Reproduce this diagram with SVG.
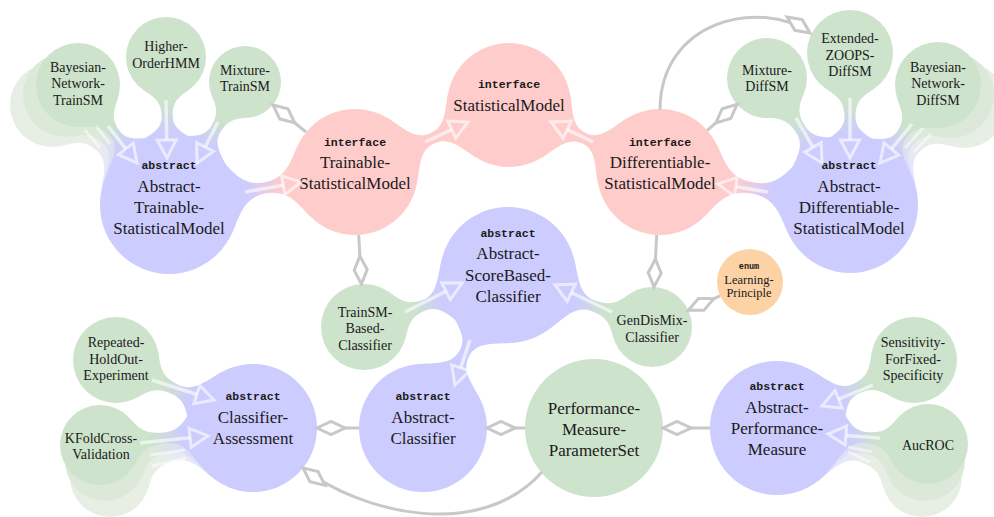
<svg xmlns="http://www.w3.org/2000/svg" width="994" height="517" viewBox="0 0 994 517">
<defs>
<style>
.t{font-family:"Liberation Serif","Times New Roman",serif;fill:#1a1a1a;text-anchor:middle}
.L{font-size:17px}
.S{font-size:14px}
.kw{font-family:"Liberation Mono","Courier New",monospace;font-weight:bold;font-size:11.5px;fill:#1a1a1a;text-anchor:middle}
.g{fill:#cde3cb}.b{fill:#ccccff}.p{fill:#ffcccc}.o{fill:#fdd3a6}
.g1{fill:#dce9d9}.g2{fill:#e7efe4}
.agg{fill:none;stroke:#c8c8c8;stroke-width:3;marker-start:url(#dia)}
.inh{fill:none;stroke:#fff;stroke-opacity:.6;stroke-width:3.5;marker-end:url(#tri)}
.gl{fill:none;stroke:#fff;stroke-opacity:.5;stroke-width:3}
</style>
<linearGradient id="gGB" x1="0" y1="0" x2="1" y2="0"><stop offset="0.25" stop-color="#cde3cb"/><stop offset="0.75" stop-color="#ccccff"/></linearGradient>
<linearGradient id="gBP" x1="0" y1="0" x2="1" y2="0"><stop offset="0.25" stop-color="#ccccff"/><stop offset="0.75" stop-color="#ffcccc"/></linearGradient>
<linearGradient id="gG1" x1="0" y1="0" x2="1" y2="0"><stop offset="0.25" stop-color="#dce9d9"/><stop offset="0.8" stop-color="#dcdcfb"/></linearGradient>
<linearGradient id="gG2" x1="0" y1="0" x2="1" y2="0"><stop offset="0.25" stop-color="#e7efe4"/><stop offset="0.8" stop-color="#e6e6fb"/></linearGradient>
<marker id="tri" markerUnits="userSpaceOnUse" markerWidth="26" markerHeight="26" viewBox="-4 -13 26 26" refX="0" refY="0" orient="auto" overflow="visible">
<path d="M0,-9.5 L18,0 L0,9.5 Z" fill="none" stroke="#fff" stroke-opacity="0.6" stroke-width="3"/>
</marker>
<marker id="dia" markerUnits="userSpaceOnUse" markerWidth="34" markerHeight="20" viewBox="-3 -10 34 20" refX="0" refY="0" orient="auto" overflow="visible">
<path d="M0,0 L14,-6.5 L28,0 L14,6.5 Z" fill="#fff" stroke="#c8c8c8" stroke-width="3"/>
</marker>
</defs>
<rect width="994" height="517" fill="#fff"/>

<g id="shadows">
<path fill="url(#gG2)" transform="translate(52,105) rotate(40.5)" d="M34.4,-24.1 C41.6,-13.8 46.3,-5.5 63.45,-5.5 C80.6,-5.5 85.5,-22.6 97.4,-39.6 L97.4,39.6 C85.5,22.6 80.6,5.5 63.45,5.5 C46.3,5.5 41.6,13.8 34.4,24.1 Z"/>
<circle class="g2" cx="52" cy="105" r="42"/>
<path fill="url(#gG1)" transform="translate(65,95) rotate(46.6)" d="M34.4,-24.1 C41.6,-13.8 46,-5.5 62.2,-5.5 C78.4,-5.5 83,-22.6 94.9,-39.6 L94.9,39.6 C83,22.6 78.4,5.5 62.2,5.5 C46,5.5 41.6,13.8 34.4,24.1 Z"/>
<circle class="g1" cx="65" cy="95" r="42"/>
<path fill="url(#gG2)" transform="translate(964,105) rotate(138.7)" d="M35.2,-24.7 C42.6,-14.1 47.1,-5.5 63.3,-5.5 C79.5,-5.5 84.2,-22.3 95.9,-39 L95.9,39 C84.2,22.3 79.5,5.5 63.3,5.5 C47.1,5.5 42.6,14.1 35.2,24.7 Z"/>
<circle class="g2" cx="964" cy="105" r="43"/>
<path fill="url(#gG1)" transform="translate(951,95) rotate(132.6)" d="M35.2,-24.7 C42.6,-14.1 46.8,-5.5 62.15,-5.5 C77.5,-5.5 81.9,-22.3 93.6,-39 L93.6,39 C81.9,22.3 77.5,5.5 62.15,5.5 C46.8,5.5 42.6,14.1 35.2,24.7 Z"/>
<circle class="g1" cx="951" cy="95" r="43"/>
<path fill="url(#gG2)" transform="translate(110,477) rotate(-18.9)" d="M32.8,-23 C39.6,-13.1 44.7,-5.5 63.6,-5.5 C82.5,-5.5 87.8,-21 98.8,-36.7 L98.8,36.7 C87.8,21 82.5,5.5 63.6,5.5 C44.7,5.5 39.6,13.1 32.8,23 Z"/>
<circle class="g2" cx="110" cy="477" r="40"/>
<path fill="url(#gG1)" transform="translate(105,461) rotate(-12.6)" d="M32.8,-23 C39.6,-13.1 44.8,-5.5 63.8,-5.5 C82.8,-5.5 88.2,-21 99.2,-36.7 L99.2,36.7 C88.2,21 82.8,5.5 63.8,5.5 C44.8,5.5 39.6,13.1 32.8,23 Z"/>
<circle class="g1" cx="105" cy="461" r="40"/>
<path fill="url(#gG2)" transform="translate(922,477) rotate(-161.3)" d="M32.8,-23 C39.6,-13.1 44.6,-5.5 63.05,-5.5 C81.5,-5.5 86.7,-22 98.2,-38.5 L98.2,38.5 C86.7,22 81.5,5.5 63.05,5.5 C44.6,5.5 39.6,13.1 32.8,23 Z"/>
<circle class="g2" cx="922" cy="477" r="40"/>
<path fill="url(#gG1)" transform="translate(925,461) rotate(-167.4)" d="M32.8,-23 C39.6,-13.1 44.5,-5.5 62.3,-5.5 C80.1,-5.5 85.2,-22 96.7,-38.5 L96.7,38.5 C85.2,22 80.1,5.5 62.3,5.5 C44.5,5.5 39.6,13.1 32.8,23 Z"/>
<circle class="g1" cx="925" cy="461" r="40"/>
</g>

<g id="bars">
<path fill="url(#gGB)" transform="translate(78,85) rotate(52.8)" d="M34.4,-24.1 C41.6,-13.8 46,-5.5 61.8,-5.5 C77.6,-5.5 82.2,-22.6 94.1,-39.6 L94.1,39.6 C82.2,22.6 77.6,5.5 61.8,5.5 C46,5.5 41.6,13.8 34.4,24.1 Z"/>
<path fill="url(#gGB)" transform="translate(166,57) rotate(88.8)" d="M32.8,-23 C39.6,-13.1 43.9,-5.5 59.5,-5.5 C75.1,-5.5 79.6,-22.6 91.5,-39.6 L91.5,39.6 C79.6,22.6 75.1,5.5 59.5,5.5 C43.9,5.5 39.6,13.1 32.8,23 Z"/>
<path fill="url(#gGB)" transform="translate(245,82) rotate(121.7)" d="M29.5,-20.7 C35.7,-11.8 40,-5.5 55.8,-5.5 C71.6,-5.5 76.2,-22.6 88.1,-39.6 L88.1,39.6 C76.2,22.6 71.6,5.5 55.8,5.5 C40,5.5 35.7,11.8 29.5,20.7 Z"/>
<path fill="url(#gBP)" transform="translate(169,205) rotate(-10.1)" d="M56.5,-39.6 C68.4,-22.6 74.7,-5.5 97.45,-5.5 C120.2,-5.5 126.5,-20.7 137.3,-36.2 L137.3,36.2 C126.5,20.7 120.2,5.5 97.45,5.5 C74.7,5.5 68.4,22.6 56.5,39.6 Z"/>
<path fill="#ffcccc" transform="translate(355,172) rotate(-23.5)" d="M51.6,-36.2 C62.4,-20.7 67.3,-5.5 84.45,-5.5 C101.6,-5.5 106.5,-20.3 117.1,-35.6 L117.1,35.6 C106.5,20.3 101.6,5.5 84.45,5.5 C67.3,5.5 62.4,20.7 51.6,36.2 Z"/>
<path fill="#ffcccc" transform="translate(660,172) rotate(-156.1)" d="M51.6,-36.2 C62.4,-20.7 67,-5.5 83.1,-5.5 C99.2,-5.5 103.8,-20.3 114.4,-35.6 L114.4,35.6 C103.8,20.3 99.2,5.5 83.1,5.5 C67,5.5 62.4,20.7 51.6,36.2 Z"/>
<path fill="url(#gBP)" transform="translate(850,205) rotate(-170.1)" d="M55.7,-39 C67.4,-22.3 74.2,-5.5 98.9,-5.5 C123.6,-5.5 130.4,-20.7 141.2,-36.2 L141.2,36.2 C130.4,20.7 123.6,5.5 98.9,5.5 C74.2,5.5 67.4,22.3 55.7,39 Z"/>
<path fill="url(#gGB)" transform="translate(767,78) rotate(56.8)" d="M32.8,-23 C39.6,-13.1 44.4,-5.5 61.85,-5.5 C79.3,-5.5 84.3,-22.3 96,-39 L96,39 C84.3,22.3 79.3,5.5 61.85,5.5 C44.4,5.5 39.6,13.1 32.8,23 Z"/>
<path fill="url(#gGB)" transform="translate(850,53) rotate(90)" d="M35.2,-24.7 C42.6,-14.1 47.1,-5.5 63.5,-5.5 C79.9,-5.5 84.6,-22.3 96.3,-39 L96.3,39 C84.6,22.3 79.9,5.5 63.5,5.5 C47.1,5.5 42.6,14.1 35.2,24.7 Z"/>
<path fill="url(#gGB)" transform="translate(938,85) rotate(126.3)" d="M35.2,-24.7 C42.6,-14.1 46.8,-5.5 61.9,-5.5 C77,-5.5 81.4,-22.3 93.1,-39 L93.1,39 C81.4,22.3 77,5.5 61.9,5.5 C46.8,5.5 42.6,14.1 35.2,24.7 Z"/>
<path fill="url(#gGB)" transform="translate(364,327) rotate(-19.9)" d="M35.2,-24.7 C42.6,-14.1 47.2,-5.5 64.05,-5.5 C80.9,-5.5 85.7,-22.3 97.4,-39 L97.4,39 C85.7,22.3 80.9,5.5 64.05,5.5 C47.2,5.5 42.6,14.1 35.2,24.7 Z"/>
<path fill="url(#gGB)" transform="translate(652,327) rotate(-160.1)" d="M32.8,-23 C39.6,-13.1 44.5,-5.5 62.55,-5.5 C80.6,-5.5 85.7,-22.3 97.4,-39 L97.4,39 C85.7,22.3 80.6,5.5 62.55,5.5 C44.5,5.5 39.6,13.1 32.8,23 Z"/>
<path fill="#ccccff" transform="translate(508,275) rotate(119.1)" d="M55.7,-39 C67.4,-22.3 72.3,-5.5 89.5,-5.5 C106.7,-5.5 111.6,-21 122.6,-36.7 L122.6,36.7 C111.6,21 106.7,5.5 89.5,5.5 C72.3,5.5 67.4,22.3 55.7,39 Z"/>
<path fill="url(#gGB)" transform="translate(116,360) rotate(26.4)" d="M35.2,-24.7 C42.6,-14.1 47.6,-5.5 65.95,-5.5 C84.3,-5.5 89.5,-21 100.5,-36.7 L100.5,36.7 C89.5,21 84.3,5.5 65.95,5.5 C47.6,5.5 42.6,14.1 35.2,24.7 Z"/>
<path fill="url(#gGB)" transform="translate(100,445) rotate(-6.3)" d="M32.8,-23 C39.6,-13.1 45,-5.5 64.95,-5.5 C84.9,-5.5 90.5,-21 101.5,-36.7 L101.5,36.7 C90.5,21 84.9,5.5 64.95,5.5 C45,5.5 39.6,13.1 32.8,23 Z"/>
<path fill="url(#gGB)" transform="translate(914,360) rotate(153.6)" d="M35.2,-24.7 C42.6,-14.1 47.3,-5.5 64.45,-5.5 C81.6,-5.5 86.5,-22 98,-38.5 L98,38.5 C86.5,22 81.6,5.5 64.45,5.5 C47.3,5.5 42.6,14.1 35.2,24.7 Z"/>
<path fill="url(#gGB)" transform="translate(928,444) rotate(-174)" d="M32.8,-23 C39.6,-13.1 44.5,-5.5 62.4,-5.5 C80.3,-5.5 85.4,-22 96.9,-38.5 L96.9,38.5 C85.4,22 80.3,5.5 62.4,5.5 C44.5,5.5 39.6,13.1 32.8,23 Z"/>
</g>

<g id="n-StatisticalModel"><circle class="p" cx="509" cy="105" r="62"/>
<text class="kw" x="509" y="88">interface</text><text class="t L" x="509" y="111">StatisticalModel</text></g>
<g id="n-TrainableStatisticalModel"><circle class="p" cx="355" cy="172" r="63"/>
<text class="kw" x="355" y="145.5">interface</text><text class="t L" x="355" y="168">Trainable-</text><text class="t L" x="355" y="189">StatisticalModel</text></g>
<g id="n-DifferentiableStatisticalModel"><circle class="p" cx="660" cy="172" r="63"/>
<text class="kw" x="660" y="145.5">interface</text><text class="t L" x="660" y="168">Differentiable-</text><text class="t L" x="660" y="189">StatisticalModel</text></g>
<g id="n-AbstractTrainableStatisticalModel"><circle class="b" cx="169" cy="205" r="69"/>
<text class="kw" x="169" y="169">abstract</text><text class="t L" x="169" y="192">Abstract-</text><text class="t L" x="169" y="213">Trainable-</text><text class="t L" x="169" y="234">StatisticalModel</text></g>
<g id="n-AbstractDifferentiableStatisticalModel"><circle class="b" cx="850" cy="205" r="68"/>
<text class="kw" x="849" y="169">abstract</text><text class="t L" x="849" y="192">Abstract-</text><text class="t L" x="849" y="213">Differentiable-</text><text class="t L" x="849" y="234">StatisticalModel</text></g>
<g id="n-AbstractScoreBasedClassifier"><circle class="b" cx="508" cy="275" r="68"/>
<text class="kw" x="508" y="237">abstract</text><text class="t L" x="508" y="259">Abstract-</text><text class="t L" x="508" y="280.5">ScoreBased-</text><text class="t L" x="508" y="302">Classifier</text></g>
<g id="n-AbstractClassifier"><circle class="b" cx="423" cy="428" r="64"/>
<text class="kw" x="423" y="400">abstract</text><text class="t L" x="423" y="423">Abstract-</text><text class="t L" x="423" y="444">Classifier</text></g>
<g id="n-ClassifierAssessment"><circle class="b" cx="253" cy="428" r="64"/>
<text class="kw" x="253" y="400">abstract</text><text class="t L" x="253" y="423">Classifier-</text><text class="t L" x="253" y="444">Assessment</text></g>
<g id="n-PerformanceMeasureParameterSet"><circle class="g" cx="594" cy="428" r="69"/>
<text class="t L" x="594" y="413.5">Performance-</text><text class="t L" x="594" y="434.5">Measure-</text><text class="t L" x="594" y="455.5">ParameterSet</text></g>
<g id="n-AbstractPerformanceMeasure"><circle class="b" cx="777" cy="428" r="67"/>
<text class="kw" x="777" y="390">abstract</text><text class="t L" x="777" y="413">Abstract-</text><text class="t L" x="777" y="434">Performance-</text><text class="t L" x="777" y="455">Measure</text></g>

<g id="n-BayesianNetworkTrainSM"><circle class="g" cx="78" cy="85" r="42"/>
<text class="t S" x="78" y="71.5">Bayesian-</text><text class="t S" x="78" y="88">Network-</text><text class="t S" x="78" y="104.5">TrainSM</text></g>
<g id="n-HigherOrderHMM"><circle class="g" cx="166" cy="57" r="40"/>
<text class="t S" x="166" y="51">Higher-</text><text class="t S" x="166" y="67.5">OrderHMM</text></g>
<g id="n-MixtureTrainSM"><circle class="g" cx="245" cy="82" r="36"/>
<text class="t S" x="245" y="75">Mixture-</text><text class="t S" x="245" y="91">TrainSM</text></g>
<g id="n-MixtureDiffSM"><circle class="g" cx="767" cy="78" r="40"/>
<text class="t S" x="767" y="75">Mixture-</text><text class="t S" x="767" y="91">DiffSM</text></g>
<g id="n-ExtendedZOOPSDiffSM"><circle class="g" cx="850" cy="53" r="43"/>
<text class="t S" x="850" y="43">Extended-</text><text class="t S" x="850" y="60">ZOOPS-</text><text class="t S" x="850" y="76">DiffSM</text></g>
<g id="n-BayesianNetworkDiffSM"><circle class="g" cx="938" cy="85" r="43"/>
<text class="t S" x="938" y="71.5">Bayesian-</text><text class="t S" x="938" y="88">Network-</text><text class="t S" x="938" y="104.5">DiffSM</text></g>
<g id="n-TrainSMBasedClassifier"><circle class="g" cx="364" cy="327" r="43"/>
<text class="t S" x="365" y="317">TrainSM-</text><text class="t S" x="365" y="333">Based-</text><text class="t S" x="365" y="349.5">Classifier</text></g>
<g id="n-GenDisMixClassifier"><circle class="g" cx="652" cy="327" r="40"/>
<text class="t S" x="652" y="325">GenDisMix-</text><text class="t S" x="652" y="341.5">Classifier</text></g>
<g id="n-LearningPrinciple"><circle class="o" cx="750" cy="282" r="33"/>
<text class="kw" x="749" y="269" style="font-size:8.5px">enum</text><text class="t" x="749" y="283.5" style="font-size:12.5px">Learning-</text><text class="t" x="749" y="296.5" style="font-size:12.5px">Principle</text></g>
<g id="n-RepeatedHoldOutExperiment"><circle class="g" cx="116" cy="360" r="43"/>
<text class="t S" x="116" y="347">Repeated-</text><text class="t S" x="116" y="363.5">HoldOut-</text><text class="t S" x="116" y="380">Experiment</text></g>
<g id="n-KFoldCrossValidation"><circle class="g" cx="100" cy="445" r="40"/>
<text class="t S" x="101" y="443">KFoldCross-</text><text class="t S" x="101" y="458.5">Validation</text></g>
<g id="n-SensitivityForFixedSpecificity"><circle class="g" cx="914" cy="360" r="43"/>
<text class="t S" x="913" y="346.5">Sensitivity-</text><text class="t S" x="913" y="363.5">ForFixed-</text><text class="t S" x="913" y="380">Specificity</text></g>
<g id="n-AucROC"><circle class="g" cx="928" cy="444" r="40"/>
<text class="t S" x="928" y="450">AucROC</text></g>

<g id="connectors">
<path class="gl" d="M85,130 L100,148"/>
<path class="gl" d="M96,126 L110,144"/>
<path class="gl" d="M923,128 L905,148"/>
<path class="gl" d="M931,134 L914,152"/>
<path class="gl" d="M150,455 L185,450"/>
<path class="gl" d="M152,466 L186,458"/>
<path class="gl" d="M872,452 L848,447"/>
<path class="gl" d="M870,462 L848,452"/>
<path class="inh" d="M166,100 L166.7,140"/>
<path class="inh" d="M218,122 L205.2,147"/>
<path class="inh" d="M108,126 L125.9,148.8"/>
<path class="inh" d="M245,192 L283.3,185.2"/>
<path class="inh" d="M425,142 L451.7,129.6"/>
<path class="inh" d="M593,142 L567.3,129.7"/>
<path class="inh" d="M768,192 L735.8,186.8"/>
<path class="inh" d="M796,118 L813,147.4"/>
<path class="inh" d="M850,98 L850,140"/>
<path class="inh" d="M912,124 L891.4,149.1"/>
<path class="inh" d="M405,312 L446,291.2"/>
<path class="inh" d="M612,312 L571.3,292.7"/>
<path class="inh" d="M470,340 L460.7,367.9"/>
<path class="inh" d="M152,380 L196.9,394.5"/>
<path class="inh" d="M140,443 L190.1,437.8"/>
<path class="inh" d="M873,385 L838.6,399.2"/>
<path class="inh" d="M880,438 L845.9,435.4"/>
<path class="agg" d="M273,105 L306,132"/>
<path class="agg" d="M361.5,284 L358.7,235"/>
<path class="agg" d="M654,287 L656.7,235"/>
<path class="agg" d="M737,104.4 L707.3,130.4"/>
<path class="agg" d="M810,33 C760,-2 660,20 660,110"/>
<path class="agg" d="M688.4,310.3 L720,295.8"/>
<path class="agg" d="M317,428 L359,428"/>
<path class="agg" d="M487,428 L525,428"/>
<path class="agg" d="M663,428 L710,428"/>
<path class="agg" d="M303,468 C360,513 480,542 542,472"/>
</g>
</svg>
